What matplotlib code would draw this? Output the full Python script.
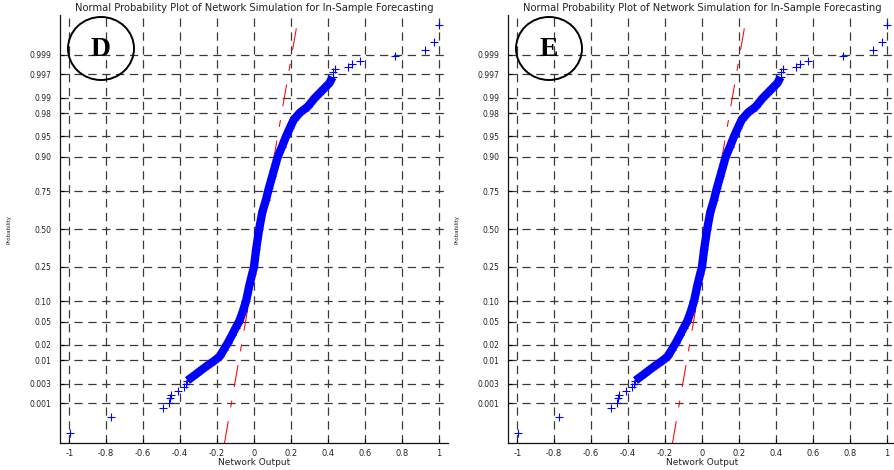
import numpy as np
import matplotlib
matplotlib.use("Agg")
import matplotlib.pyplot as plt
from matplotlib.patches import Ellipse
from statistics import NormalDist

# ----------------------------------------------------------------------
#  Data (network output vs. cumulative probability)
# ----------------------------------------------------------------------

# isolated points in the lower tail
tail_low_x = [-0.997, -0.775, -0.495, -0.459, -0.455, -0.450, -0.414, -0.381, -0.369]
tail_low_p = [0.000142, 0.000434, 0.000736, 0.00102, 0.00131, 0.00159, 0.00205, 0.00248, 0.00298]

# centre of the dense band of markers
band_x = [-0.360, -0.323, -0.287, -0.250, -0.215, -0.185, -0.165, -0.143, -0.120,
          -0.100, -0.080, -0.060, -0.043, -0.025, -0.010, 0.000, 0.012, 0.028,
          0.045, 0.065, 0.080, 0.100, 0.128, 0.150, 0.173, 0.195, 0.215, 0.250,
          0.290, 0.327, 0.370, 0.408, 0.425]
band_p = [0.00357, 0.00466, 0.00604, 0.00776, 0.00964, 0.0119, 0.0158, 0.0212, 0.0294,
          0.0392, 0.0505, 0.0721, 0.1003, 0.1587, 0.2119, 0.2514, 0.3632, 0.5000,
          0.6179, 0.6985, 0.7642, 0.8289, 0.8997, 0.9265, 0.9495, 0.9641, 0.9738, 0.9808,
          0.9850, 0.9898, 0.9931, 0.9952, 0.9965]

# isolated points in the upper tail
tail_high_x = [0.430, 0.441, 0.508, 0.530, 0.576, 0.764, 0.923, 0.972, 0.999]
tail_high_p = [0.99736, 0.99774, 0.99801, 0.99831, 0.99861, 0.99893, 0.99926, 0.99955, 0.99985]

# reference normal line (mean, sigma)
ref_mu = 0.041
ref_sigma = 0.0528

x_ticks = [-1, -0.8, -0.6, -0.4, -0.2, 0, 0.2, 0.4, 0.6, 0.8, 1]
x_ticklabels = ['-1', '-0.8', '-0.6', '-0.4', '-0.2', '0', '0.2', '0.4', '0.6', '0.8', '1']
p_ticks = [0.001, 0.003, 0.01, 0.02, 0.05, 0.10, 0.25, 0.50, 0.75, 0.90, 0.95, 0.98, 0.99, 0.997, 0.999]
p_ticklabels = ['0.001', '0.003', '0.01', '0.02', '0.05', '0.10', '0.25', '0.50',
                '0.75', '0.90', '0.95', '0.98', '0.99', '0.997', '0.999']

panel_letters = ['D', 'E']

# ----------------------------------------------------------------------
#  Helpers
# ----------------------------------------------------------------------

nd = NormalDist()

def z_of(p):
    return np.array([nd.inv_cdf(v) for v in p])

plt.rcParams['lines.scale_dashes'] = False
plt.rcParams['font.family'] = 'DejaVu Sans'

W, H = 894, 470
z_lim = (-3.8, 3.8)

def draw_panel(ax, letter, x0):
    # reference line, dashed, under the data
    zz = np.array(z_lim)
    ax.plot(ref_mu + ref_sigma * zz, zz, color='red', lw=0.75,
            linestyle=(0, (16, 10, 5, 10)), zorder=2)

    # dense band + markers
    zb = z_of(band_p)
    ax.plot(band_x, zb, color='blue', lw=6, solid_capstyle='butt', zorder=3)
    ax.plot(band_x, zb, '+', color='blue', ms=6, mew=0.8, zorder=3)
    ax.plot(tail_low_x, z_of(tail_low_p), '+', color='blue', ms=6, mew=0.8, zorder=3)
    ax.plot(tail_high_x, z_of(tail_high_p), '+', color='blue', ms=6, mew=0.8, zorder=3)

    ax.set_xlim(-1.05, 1.05)
    ax.set_ylim(*z_lim)
    ax.set_xticks(x_ticks)
    ax.set_xticklabels(x_ticklabels)
    ax.set_yticks(z_of(p_ticks))
    ax.set_yticklabels(p_ticklabels)

    ax.set_axisbelow(True)
    ax.grid(True, linestyle=(0, (6, 4)), color='#3a3a3a', linewidth=0.9)
    ax.tick_params(direction='in', length=3, width=0.8, pad=6,
                   colors='black', labelcolor='#222222')
    ax.tick_params(axis='y', labelsize=5.5)
    ax.tick_params(axis='x', labelsize=6, pad=4)

    for s in ['top', 'right']:
        ax.spines[s].set_visible(False)
    for s in ['left', 'bottom']:
        ax.spines[s].set_linewidth(0.9)
        ax.spines[s].set_color('#111111')

    ax.set_title('Normal Probability Plot of Network Simulation for In-Sample Forecasting',
                 fontsize=7.2, pad=3, color='#222222')
    ax.set_xlabel('Network Output', fontsize=6.5, labelpad=0, color='#222222')
    ax.set_ylabel('Probability', fontsize=4, color='#222222')
    ax.yaxis.set_label_coords(-48 / 388, 0.5)

    # circled panel letter (figure pixel coordinates)
    cx, cy = x0 + 41, 48.5
    fig.add_artist(Ellipse((cx / W, 1 - cy / H), 66 / W, 63 / H, fill=False,
                           lw=1.4, edgecolor='black', transform=fig.transFigure))
    fig.text(cx / W, 1 - 50 / H, letter, ha='center', va='center',
             fontsize=20, fontweight='bold', family='Liberation Serif')


# ----------------------------------------------------------------------
#  Figure
# ----------------------------------------------------------------------

fig = plt.figure(figsize=(W / 100, H / 100), dpi=100)
lefts = [60, 508]
for left, letter in zip(lefts, panel_letters):
    ax = fig.add_axes([left / W, 27 / H, 388 / W, 428 / H])
    draw_panel(ax, letter, left)

fig.savefig('out.png', dpi=100)
